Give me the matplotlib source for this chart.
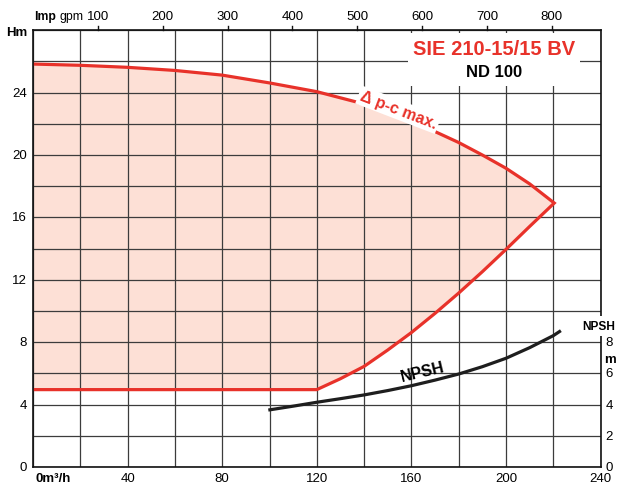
import matplotlib
matplotlib.use("Agg")
import matplotlib.pyplot as plt
from matplotlib import font_manager
from matplotlib.patches import Rectangle

names = {f.name for f in font_manager.fontManager.ttflist}
FONT = 'Liberation Sans Narrow' if 'Liberation Sans Narrow' in names else 'Liberation Sans'
plt.rcParams['font.family'] = [FONT, 'DejaVu Sans']

# ---- data ----
q_max = [0, 20, 40, 60, 80, 100, 120, 140, 150, 160, 170, 180, 190, 200, 210, 220.4]
h_max = [25.83, 25.75, 25.62, 25.42, 25.12, 24.62, 24.06, 23.27, 22.75, 22.15, 21.5,
         20.8, 20.0, 19.15, 18.15, 16.92]
q_low = [220.4, 210, 200, 190, 180, 170, 160, 150, 140, 130, 120, 0]
h_low = [16.92, 15.42, 13.95, 12.52, 11.15, 9.85, 8.62, 7.5, 6.45, 5.66, 4.96, 4.96]
q_npsh = [99.5, 110, 120, 130, 140, 150, 160, 170, 180, 190, 200, 210, 220, 223.2]
npsh = [3.65, 3.9, 4.15, 4.38, 4.62, 4.9, 5.21, 5.57, 5.96, 6.43, 6.97, 7.65, 8.42, 8.74]
x_ticks = [40, 80, 120, 160, 200, 240]
y_ticks = [0, 4, 8, 12, 16, 20, 24]
npsh_ticks = [0, 2, 4, 6, 8]
gpm_ticks = [100, 200, 300, 400, 500, 600, 700, 800]
GPM_TO_M3H = 0.2742

RED = '#e8322a'
FILL = '#fde0d6'
GRID = '#3c3c3c'

fig = plt.figure(figsize=(6.18, 4.85), dpi=100)
ax = fig.add_axes([33/618, 1-468/485, (600.6-33)/618, (468-31.2)/485])
ax.set_xlim(0, 240)
ax.set_ylim(0, 28)

ax.set_axisbelow(True)
ax.set_xticks(range(0, 241, 20))
ax.set_yticks(range(0, 29, 2))
ax.grid(True, color=GRID, lw=0.9)
ax.tick_params(length=0, labelbottom=False, labelleft=False)

poly_x = q_max + q_low
poly_y = h_max + h_low
ax.fill(poly_x, poly_y, color=FILL, lw=0, zorder=0.2)
ax.plot(poly_x, poly_y, color=RED, lw=2.3, solid_joinstyle='miter', zorder=2)
ax.plot(q_npsh, npsh, color='#1e1e1e', lw=2.3, solid_capstyle='butt', zorder=2)

for s in ax.spines.values():
    s.set_color('#111111')
    s.set_linewidth(1.2)

fs = 9.5
PX = 1/2.365
PY = 1/15.6
for v in y_ticks:
    ax.text(-6*PX, v, str(v), ha='right', va='center', fontsize=fs)
ax.text(-16*PX, 27.9, 'Hm', ha='center', va='center', fontsize=fs, fontweight='bold')
for v in x_ticks:
    ax.text(v, -11*PY, str(v), ha='center', va='center', fontsize=fs)
ax.text(1, -11*PY, '0m³/h', ha='left', va='center', fontsize=fs, fontweight='bold')
for v in npsh_ticks:
    ax.text(240 + 5*PX, v, str(v), ha='left', va='center', fontsize=fs)
ax.text(240 + 9*PX, (468-360)*PY, 'm', ha='center', va='center', fontsize=fs, fontweight='bold')
ax.text(240 - 2*PX, (468-327)*PY, 'NPSH', ha='center', va='center', fontsize=fs*0.9,
        fontweight='bold', zorder=5, clip_on=False,
        bbox=dict(facecolor='white', edgecolor='none', pad=3))
for g in gpm_ticks:
    x = g * GPM_TO_M3H
    ax.text(x, 28 + 14*PY, str(g), ha='center', va='center', fontsize=fs)
    ax.plot([x, x], [28, 28 + 4*PY], color='#111111', lw=1, clip_on=False)
ax.text(0.3, 28 + 14*PY, 'Imp', ha='left', va='center', fontsize=8.8, fontweight='bold')
ax.text(11.3, 28 + 14*PY, 'gpm', ha='left', va='center', fontsize=8.8)

ax.add_patch(Rectangle((158.6, 24.4), 231.4-158.6, 27.8-24.4, facecolor='white',
                       edgecolor='none', zorder=1.5))
ax.text(195, 26.85, 'SIE 210-15/15 BV', ha='center', va='center', fontsize=14.5,
        fontweight='bold', color=RED, zorder=3)
ax.text(195, 25.35, 'ND 100', ha='center', va='center', fontsize=12,
        fontweight='bold', color='black', zorder=3)

ax.text(154.5, 22.9, 'Δ p-c max.', ha='center', va='center', rotation=-21,
        rotation_mode='anchor', fontsize=11.5, fontweight='bold', color=RED, zorder=3,
        bbox=dict(facecolor='white', edgecolor='none', pad=1.5))
ax.text(164.7, 6.1, 'NPSH', ha='center', va='center', rotation=13.5,
        rotation_mode='anchor', fontsize=11.5, fontweight='bold', color='black', zorder=3)

fig.savefig('out.png', dpi=100)
